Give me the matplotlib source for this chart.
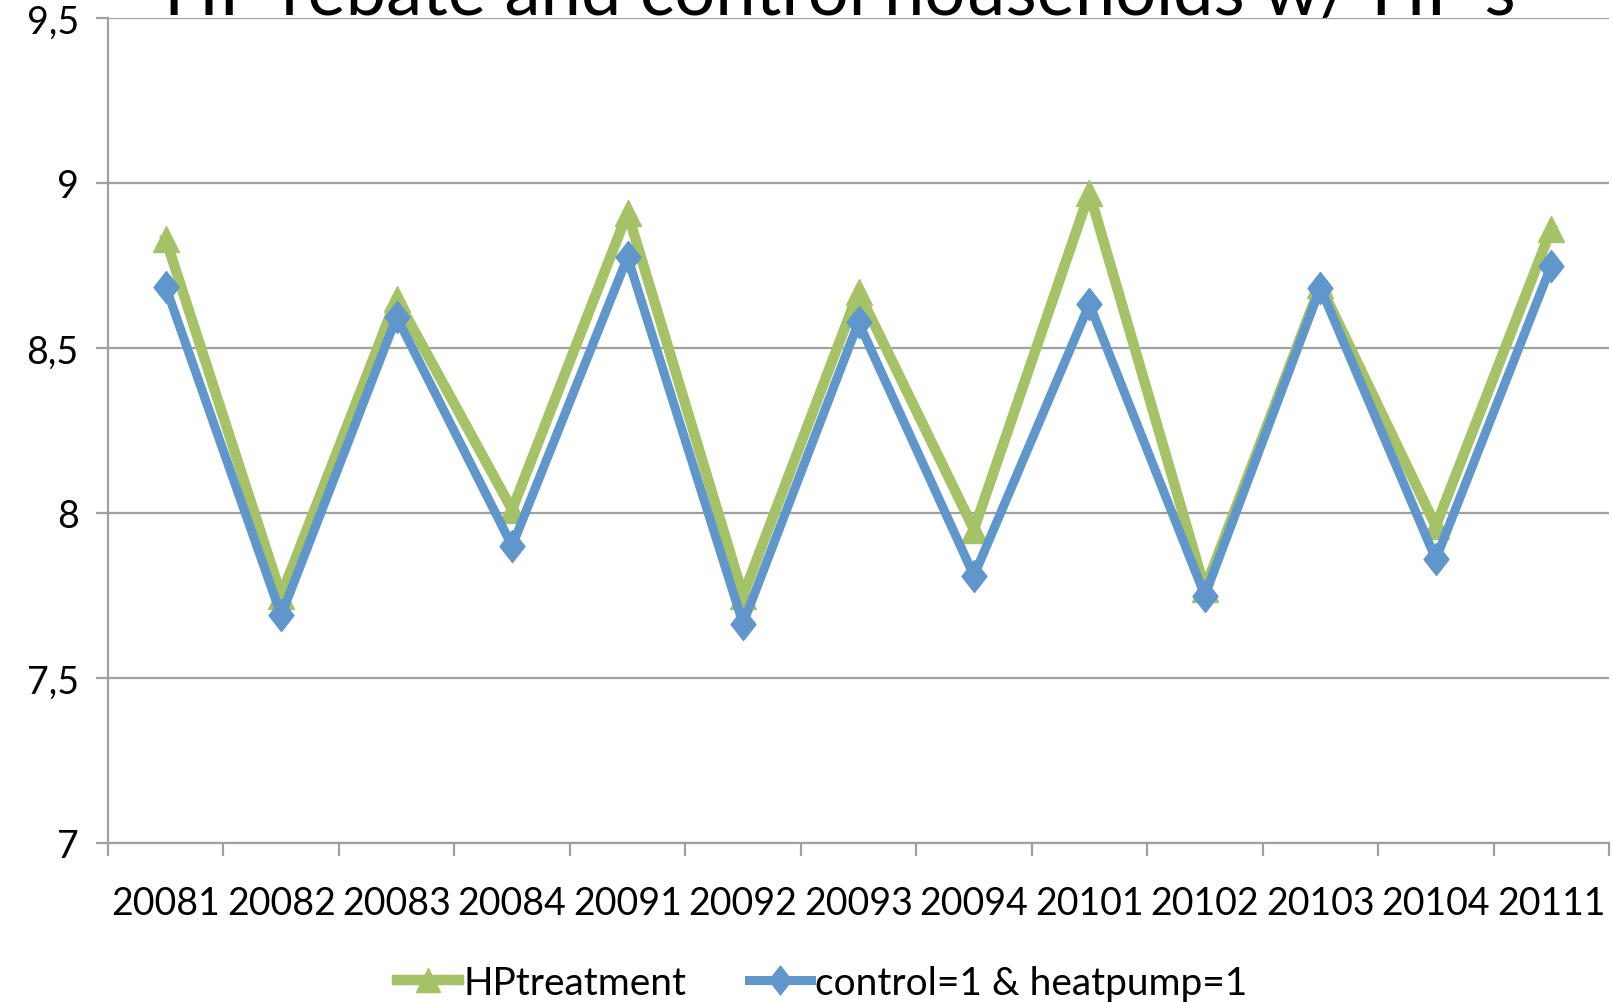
import matplotlib
matplotlib.use("Agg")
import matplotlib.pyplot as plt

plt.rcParams["font.family"] = ["Lato", "DejaVu Sans"]

quarters = ["20081", "20082", "20083", "20084", "20091", "20092", "20093",
            "20094", "20101", "20102", "20103", "20104", "20111"]
hp_treatment = [8.83, 7.75, 8.65, 8.01, 8.91, 7.75, 8.67,
                7.95, 8.97, 7.77, 8.69, 7.96, 8.86]
control_hp = [8.685, 7.69, 8.594, 7.90, 8.775, 7.665, 8.578,
              7.81, 8.633, 7.75, 8.683, 7.86, 8.75]
y_ticks = [7, 7.5, 8, 8.5, 9, 9.5]
y_labels = ["7", "7,5", "8", "8,5", "9", "9,5"]

green = "#A6C266"
blue = "#5F96CB"
grid_gray = "#A0A0A0"

fig = plt.figure(figsize=(16.12, 10.03), dpi=100)
ax = fig.add_axes([108 / 1612, 1 - 844 / 1003, 1501 / 1612, 825 / 1003])

x = list(range(len(quarters)))
diamond = [(0, 1), (0.78, 0), (0, -1), (-0.78, 0), (0, 1)]
ax.plot(x, hp_treatment, color=green, lw=7.5, marker="^", ms=19,
        label="HPtreatment", zorder=3)
ax.plot(x, control_hp, color=blue, lw=6.5, marker=diamond, ms=23,
        label="control=1 & heatpump=1", zorder=4)

ax.set_xlim(-0.5, len(quarters) - 0.5)
ax.set_ylim(7, 9.5)
ax.set_yticks(y_ticks)
ax.set_yticklabels(y_labels)
ax.set_xticks(x)
ax.set_xticklabels(quarters)
ax.set_xticks([i - 0.5 for i in range(len(quarters) + 1)], minor=True)

ax.grid(axis="y", color=grid_gray, lw=1.6, zorder=0)
for side in ["top", "right"]:
    ax.spines[side].set_visible(False)
for side in ["left", "bottom"]:
    ax.spines[side].set_color(grid_gray)
    ax.spines[side].set_linewidth(1.6)

ax.tick_params(axis="y", length=9, width=1.6, color=grid_gray,
               labelsize=27, pad=12)
ax.tick_params(axis="x", which="major", length=0, labelsize=27, pad=30)
ax.tick_params(axis="x", which="minor", length=9, width=1.6, color=grid_gray)

# title is clipped by the top edge, as in the original export
fig.text(0.521, 1 - 15 / 1003, "HP rebate and control households w/ HP's",
         ha="center", va="baseline", fontsize=52)

fig.legend(loc="center", bbox_to_anchor=(0.51, 1 - 984 / 1003), ncol=2,
           frameon=False, fontsize=28, handlelength=1.6, handletextpad=0.1,
           columnspacing=1.6, markerscale=0.9)

fig.savefig("out.png", dpi=100)
